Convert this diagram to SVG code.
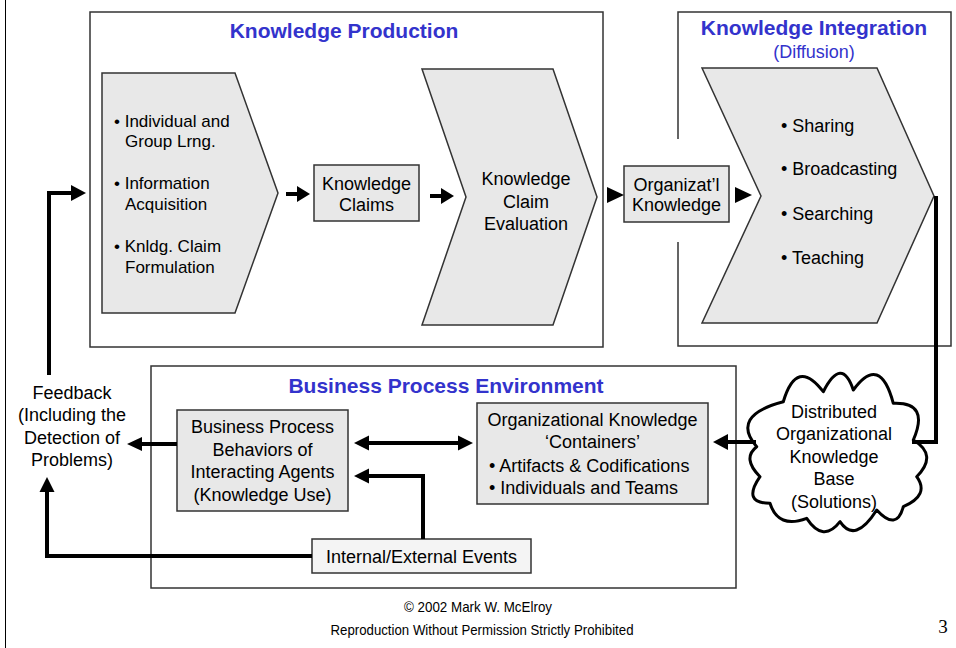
<svg xmlns="http://www.w3.org/2000/svg" width="956" height="648" viewBox="0 0 956 648">
  <style>
    text { font-family: "Liberation Sans", Arial, sans-serif; fill: #000; }
    .title { font-size: 21px; font-weight: bold; fill: #3333cc; }
    .sub { font-size: 18px; fill: #3333cc; }
    .t18 { font-size: 18px; }
    .t17 { font-size: 17px; }
    .mid { text-anchor: middle; }
    .frame { fill: #fff; stroke: #333; stroke-width: 1.5; }
    .shape { fill: #e8e8e8; stroke: #333; stroke-width: 1.5; }
    .wire { fill: none; stroke: #000; stroke-width: 4; }
    .head { fill: #000; stroke: none; }
    .foot { font-size: 14.5px; }
  </style>

  <!-- page edge -->
  <line x1="5.5" y1="0" x2="5.5" y2="648" stroke="#000" stroke-width="1"/>

  <!-- Knowledge Production area -->
  <g id="knowledge-production">
    <rect class="frame" x="90" y="12" width="513" height="335"/>
    <text class="title mid" x="344" y="38">Knowledge Production</text>
  </g>

  <g id="learning-steps">
    <polygon class="shape" points="102,73 235,73 278,193 235,313 102,313"/>
    <text class="t17" x="114" y="127">• Individual and</text>
    <text class="t17" x="125" y="147">Group Lrng.</text>
    <text class="t17" x="114" y="189">• Information</text>
    <text class="t17" x="125" y="210">Acquisition</text>
    <text class="t17" x="114" y="252">• Knldg. Claim</text>
    <text class="t17" x="125" y="273">Formulation</text>
  </g>

  <g id="knowledge-claims">
    <rect class="shape" x="314" y="165" width="105" height="56"/>
    <text class="t18 mid" x="366.5" y="190">Knowledge</text>
    <text class="t18 mid" x="366.5" y="211">Claims</text>
  </g>

  <g id="claim-evaluation">
    <polygon class="shape" points="422,69 553,69 597,197 553,325 422,325 466,197"/>
    <text class="t18 mid" x="526" y="185">Knowledge</text>
    <text class="t18 mid" x="526" y="208">Claim</text>
    <text class="t18 mid" x="526" y="230">Evaluation</text>
  </g>

  <!-- Knowledge Integration area (left side open where the input passes) -->
  <g id="knowledge-integration">
    <path d="M678,139 V12 H951 V346 H678 V242" fill="#fff" stroke="#333" stroke-width="1.5"/>
    <text class="title mid" x="814" y="35">Knowledge Integration</text>
    <text class="sub mid" x="814" y="58">(Diffusion)</text>
  </g>

  <g id="organizational-knowledge">
    <rect class="shape" x="624" y="166" width="105" height="56"/>
    <text class="t18 mid" x="676.5" y="191">Organizat’l</text>
    <text class="t18 mid" x="676.5" y="211">Knowledge</text>
  </g>

  <g id="diffusion-steps">
    <polygon class="shape" points="702,68 877,68 934,196 877,323 702,323 761,196"/>
    <text class="t18" x="781" y="132">• Sharing</text>
    <text class="t18" x="781" y="175">• Broadcasting</text>
    <text class="t18" x="781" y="220">• Searching</text>
    <text class="t18" x="781" y="264">• Teaching</text>
  </g>

  <!-- Business Process Environment area -->
  <g id="business-process-environment">
    <rect class="frame" x="151" y="366" width="585" height="222"/>
    <text class="title mid" x="446" y="393">Business Process Environment</text>
  </g>

  <g id="process-behaviors">
    <rect class="shape" x="177" y="410" width="171" height="101"/>
    <text class="t18 mid" x="262.5" y="433">Business Process</text>
    <text class="t18 mid" x="262.5" y="456">Behaviors of</text>
    <text class="t18 mid" x="262.5" y="478">Interacting Agents</text>
    <text class="t18 mid" x="262.5" y="501">(Knowledge Use)</text>
  </g>

  <g id="knowledge-containers">
    <rect class="shape" x="477" y="403" width="231" height="101"/>
    <text class="t18 mid" x="592.5" y="426">Organizational Knowledge</text>
    <text class="t18 mid" x="592.5" y="448">‘Containers’</text>
    <text class="t18" x="489" y="472">• Artifacts &amp; Codifications</text>
    <text class="t18" x="489" y="494">• Individuals and Teams</text>
  </g>

  <g id="events">
    <rect x="312" y="539" width="219" height="34" fill="#f4f4f4" stroke="#333" stroke-width="1.5"/>
    <text class="t18 mid" x="421.5" y="563">Internal/External Events</text>
  </g>

  <g id="feedback">
    <text class="t18 mid" x="72" y="399">Feedback</text>
    <text class="t18 mid" x="72" y="421">(Including the</text>
    <text class="t18 mid" x="72" y="444">Detection of</text>
    <text class="t18 mid" x="72" y="466">Problems)</text>
  </g>

  <g id="knowledge-base">
    <path d="M783.3,401.7 Q796.7,356.7 823.3,391.7 Q841.7,355.8 853.3,390 Q880,353.3 893.3,403.3 Q930,401.7 913.3,440 Q938.3,455 916.7,476.7 Q930,495 903.3,506.7 Q896.7,531.7 876.7,510 Q855,544.2 840,521.7 Q823.3,543.3 806.7,518.3 Q778.3,529.2 770,503.3 Q741.7,503.3 760,476.7 Q741.7,458.3 756.7,446.7 Q730,415.8 783.3,401.7 Z" fill="#fff" stroke="#000" stroke-width="3" stroke-linejoin="round"/>
    <text class="t18 mid" x="834" y="418">Distributed</text>
    <text class="t18 mid" x="834" y="440">Organizational</text>
    <text class="t18 mid" x="834" y="463">Knowledge</text>
    <text class="t18 mid" x="834" y="485">Base</text>
    <text class="t18 mid" x="834" y="508">(Solutions)</text>
  </g>

  <!-- connectors -->
  <g id="connectors">
    <!-- feedback loop into production -->
    <path class="wire" d="M49,375 V193 H72"/>
    <polygon class="head" points="86,193 71,185 71,201"/>

    <!-- production flow -->
    <path class="wire" d="M286,194 H299" stroke-width="5"/>
    <polygon class="head" points="310,194 297,186 297,202"/>
    <path class="wire" d="M430,196 H443" stroke-width="5"/>
    <polygon class="head" points="454,196 441,188 441,204"/>
    <polygon class="head" points="624,195 607,187 607,203"/>
    <polygon class="head" points="752,195 735,187 735,203"/>

    <!-- diffusion into the knowledge base -->
    <path class="wire" d="M936,196 V442 H912"/>

    <!-- knowledge base to containers -->
    <path class="wire" d="M756,442 H724"/>
    <polygon class="head" points="713,442 728,434 728,450"/>

    <!-- behaviors <-> containers -->
    <path class="wire" d="M366,443 H460"/>
    <polygon class="head" points="354,443 369,435.5 369,450.5"/>
    <polygon class="head" points="473,443 458,435.5 458,450.5"/>

    <!-- events into behaviors -->
    <path class="wire" d="M423,539 V476 H366"/>
    <polygon class="head" points="354,476 369,468.5 369,483.5"/>

    <!-- behaviors to feedback -->
    <path class="wire" d="M177,444 H139"/>
    <polygon class="head" points="127,444 142,437 142,451"/>

    <!-- events to feedback -->
    <path class="wire" d="M312,556 H47 V489"/>
    <polygon class="head" points="47,477 39.5,492 54.5,492"/>
  </g>

  <!-- footer -->
  <text class="foot mid" x="478" y="612" textLength="148" lengthAdjust="spacingAndGlyphs">© 2002 Mark W. McElroy</text>
  <text class="foot mid" x="482" y="635" textLength="303" lengthAdjust="spacingAndGlyphs">Reproduction Without Permission Strictly Prohibited</text>
  <text x="943" y="633" style="font-family: 'Liberation Serif', 'Times New Roman', serif; font-size: 19px;" text-anchor="middle">3</text>
</svg>
